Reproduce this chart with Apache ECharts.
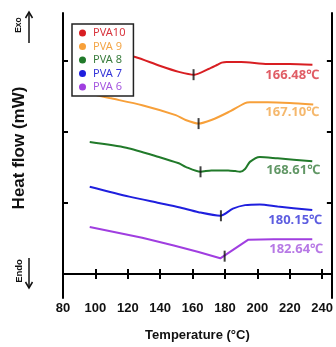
<!DOCTYPE html>
<html>
<head>
<meta charset="utf-8">
<script src="https://cdn.jsdelivr.net/npm/echarts@6/dist/echarts.min.js"></script>
<style>
  html, body { margin: 0; padding: 0; background: #fff; }
  #chart { width: 336px; height: 347px; }
</style>
</head>
<body>
<div id="chart"></div>
<script>
// DSC curves, heat flow in arbitrary units (one y tick = 1 unit)
const seriesNames = ['PVA10', 'PVA 9', 'PVA 8', 'PVA 7', 'PVA 6'];
const lineColors = ['#d81e22', '#f7a03a', '#217a2a', '#1f1fde', '#a03ee0'];
const textColors = ['#d8353e', '#f3a648', '#3a7d3e', '#3434d8', '#a557df'];

const redT = [97, 110, 124.6, 139.2, 151.5, 161.2, 169.8, 175.3, 178, 181, 190, 206.4, 220, 234];
const redHF = [3.16, 3.13, 3.06, 2.94, 2.85, 2.81, 2.89, 2.95, 2.98, 2.99, 2.99, 2.96, 2.96, 2.95];

const orangeT = [100.8, 108.7, 128.9, 149.6, 155.7, 163.7, 171.6, 182, 192.4, 195.4, 206.4, 220, 234.5];
const orangeHF = [2.52, 2.48, 2.38, 2.24, 2.17, 2.12, 2.17, 2.28, 2.41, 2.42, 2.42, 2.41, 2.39];

const greenT = [96.5, 119.1, 139.2, 151.5, 155.7, 164.9, 171.6, 182, 186.3, 189.3, 192.4, 195.4, 201.5, 212.5, 233.9];
const greenHF = [1.86, 1.78, 1.65, 1.56, 1.51, 1.44, 1.46, 1.46, 1.45, 1.44, 1.48, 1.58, 1.65, 1.63, 1.59];

const blueT = [96.5, 120.9, 139.2, 151.5, 163.7, 177.1, 184.9, 192.4, 201.5, 212.5, 233.9];
const blueHF = [1.23, 1.09, 1.0, 0.94, 0.87, 0.82, 0.92, 0.97, 0.98, 0.95, 0.90];

const purpleT = [96.5, 128.9, 148.4, 163.7, 177.1, 194.2, 210, 233.9];
const purpleHF = [0.66, 0.51, 0.40, 0.31, 0.22, 0.48, 0.49, 0.49];

// onset marks and temperature labels
const markT = [160.6, 163.7, 164.9, 177.5, 179.8];
const markHF = [2.81, 2.12, 1.44, 0.82, 0.25];
const labelTexts = ['166.48℃', '167.10℃', '168.61℃', '180.15℃', '182.64℃'];
const labelT = [238.2, 238.2, 238.8, 240.0, 240.6];
const labelHF = [2.80, 2.28, 1.465, 0.76, 0.34];

const xTicks = { min: 80, max: 246, interval: 20 };
const yTickValues = [0, 1, 2, 3];

const curves = [
  [redT, redHF], [orangeT, orangeHF], [greenT, greenHF], [blueT, blueHF], [purpleT, purpleHF]
];

const chart = echarts.init(document.getElementById('chart'));

const axisFont = 'Liberation Sans, Arial, sans-serif';
const frameLine = { show: true, lineStyle: { color: '#000', width: 2 } };
const innerTick = { show: true, inside: true, length: 5, lineStyle: { color: '#000', width: 2 } };

const lineSeries = curves.map((c, i) => ({
  name: seriesNames[i],
  type: 'line',
  smooth: i === 4 ? false : 0.25,
  showSymbol: false,
  symbol: 'circle',
  color: lineColors[i],
  lineStyle: { width: 2, color: lineColors[i] },
  data: c[0].map((t, k) => [t, c[1][k]]),
  z: 2
}));

const option = {
  animation: false,
  backgroundColor: '#fff',
  grid: { left: 63, right: 1, top: 13, bottom: 49 },
  legend: {
    orient: 'vertical',
    left: 72,
    top: 24,
    backgroundColor: '#fff',
    borderColor: '#222',
    borderWidth: 1.5,
    borderRadius: 0,
    padding: [3, 8, 3, 7],
    itemWidth: 7,
    itemHeight: 7,
    itemGap: 1.5,
    icon: 'circle',
    textStyle: { fontSize: 11, fontFamily: 'Noto Sans', lineHeight: 12, padding: [0, 0, 0, 2] },
    data: seriesNames.map((n, i) => ({ name: n, textStyle: { color: textColors[i] } }))
  },
  xAxis: [
    {
      type: 'value', position: 'bottom',
      min: xTicks.min, max: xTicks.max, interval: xTicks.interval,
      axisLine: frameLine, axisTick: innerTick, splitLine: { show: false },
      axisLabel: { margin: 4, fontSize: 13, fontWeight: 'bold', color: '#111', fontFamily: axisFont, showMaxLabel: false },
      name: 'Temperature (°C)', nameLocation: 'middle', nameGap: 31,
      nameTextStyle: { fontSize: 13, fontWeight: 'bold', color: '#111', fontFamily: axisFont }
    },
    {
      type: 'value', position: 'top',
      min: xTicks.min, max: xTicks.max, interval: xTicks.interval,
      axisLine: frameLine, axisTick: innerTick, splitLine: { show: false },
      axisLabel: { show: false }
    }
  ],
  yAxis: [
    {
      type: 'value', position: 'left', min: -0.34, max: 3.68,
      axisLine: frameLine,
      axisTick: Object.assign({}, innerTick, { customValues: yTickValues }),
      axisLabel: { show: false }, splitLine: { show: false }
    },
    {
      type: 'value', position: 'right', min: -0.34, max: 3.68,
      axisLine: frameLine,
      axisTick: Object.assign({}, innerTick, { customValues: yTickValues }),
      axisLabel: { show: false }, splitLine: { show: false }
    }
  ],
  graphic: [
    {
      type: 'text', x: 19, y: 148, rotation: Math.PI / 2,
      style: { text: 'Heat flow (mW)', fontSize: 17, fontWeight: 'bold', fill: '#111',
        fontFamily: axisFont, align: 'center', verticalAlign: 'middle' }
    },
    {
      type: 'text', x: 19, y: 25, rotation: Math.PI / 2,
      style: { text: 'Exo', fontSize: 8.5, fontWeight: 'bold', fill: '#111',
        fontFamily: axisFont, align: 'center', verticalAlign: 'middle' }
    },
    {
      type: 'text', x: 19, y: 271, rotation: Math.PI / 2,
      style: { text: 'Endo', fontSize: 9.5, fontWeight: 'bold', fill: '#111',
        fontFamily: axisFont, align: 'center', verticalAlign: 'middle' }
    },
    { type: 'polyline', shape: { points: [[29, 43], [29, 13]] }, style: { stroke: '#111', lineWidth: 1.5 } },
    { type: 'polyline', shape: { points: [[25.5, 18], [29, 12], [32.5, 18]] }, style: { stroke: '#111', lineWidth: 1.5, fill: null } },
    { type: 'polyline', shape: { points: [[29, 258], [29, 288]] }, style: { stroke: '#111', lineWidth: 1.5 } },
    { type: 'polyline', shape: { points: [[25.5, 282], [29, 288], [32.5, 282]] }, style: { stroke: '#111', lineWidth: 1.5, fill: null } }
  ],
  series: lineSeries.concat([
    {
      name: 'marks',
      type: 'scatter',
      symbol: 'rect',
      symbolSize: [2, 11],
      itemStyle: { color: '#111' },
      data: markT.map((t, i) => [t, markHF[i]]),
      z: 3
    },
    {
      name: 'labels',
      type: 'scatter',
      symbolSize: 0,
      data: labelT.map((t, i) => ({
        value: [t, labelHF[i]],
        label: {
          show: true, position: [0, 0], align: 'right', verticalAlign: 'middle',
          formatter: labelTexts[i], color: textColors[i],
          fontSize: 13, fontWeight: 'bold', fontFamily: 'Noto Sans'
        }
      })),
      z: 3
    }
  ])
};

chart.setOption(option);
</script>
</body>
</html>
